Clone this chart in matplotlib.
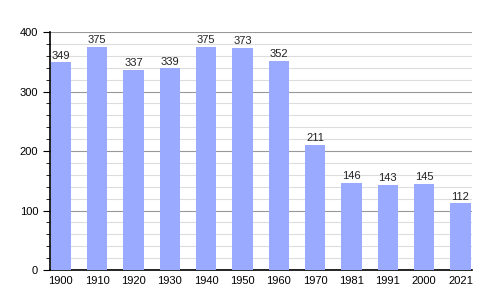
import matplotlib.pyplot as plt
from matplotlib.ticker import MultipleLocator

plt.switch_backend('Agg')
plt.rcParams['font.family'] = ['Liberation Sans', 'DejaVu Sans']

years = ['1900', '1910', '1920', '1930', '1940', '1950', '1960',
         '1970', '1981', '1991', '2000', '2021']
population = [349, 375, 337, 339, 375, 373, 352, 211, 146, 143, 145, 112]

fig = plt.figure(figsize=(5, 3), dpi=100)
ax = fig.add_axes([0.10, 0.10, 0.844, 0.793])

x = range(len(years))
ax.bar(x, population, width=0.56, color='#99aaff', zorder=3)

# valeurs au-dessus des barres
for i, v in enumerate(population):
    ax.text(i, v + 3, str(v), ha='center', va='bottom', fontsize=8,
            color='#222222', zorder=4)

ax.set_xlim(-0.3, len(years) - 0.68)
ax.set_ylim(0, 400)
ax.set_xticks(list(x))
ax.set_xticklabels(years)
ax.yaxis.set_major_locator(MultipleLocator(100))
ax.yaxis.set_minor_locator(MultipleLocator(20))

ax.grid(axis='y', which='major', color='#999999', linewidth=0.8, zorder=0)
ax.grid(axis='y', which='minor', color='#dddddd', linewidth=0.8, zorder=0)

for s in ['top', 'right']:
    ax.spines[s].set_visible(False)
ax.spines['left'].set_linewidth(1.2)
ax.spines['bottom'].set_linewidth(1.2)

ax.tick_params(axis='x', length=0, labelsize=8, pad=4)
ax.tick_params(axis='y', which='major', length=5, labelsize=8)
ax.tick_params(axis='y', which='minor', length=3)

fig.savefig('out.png', dpi=100)
